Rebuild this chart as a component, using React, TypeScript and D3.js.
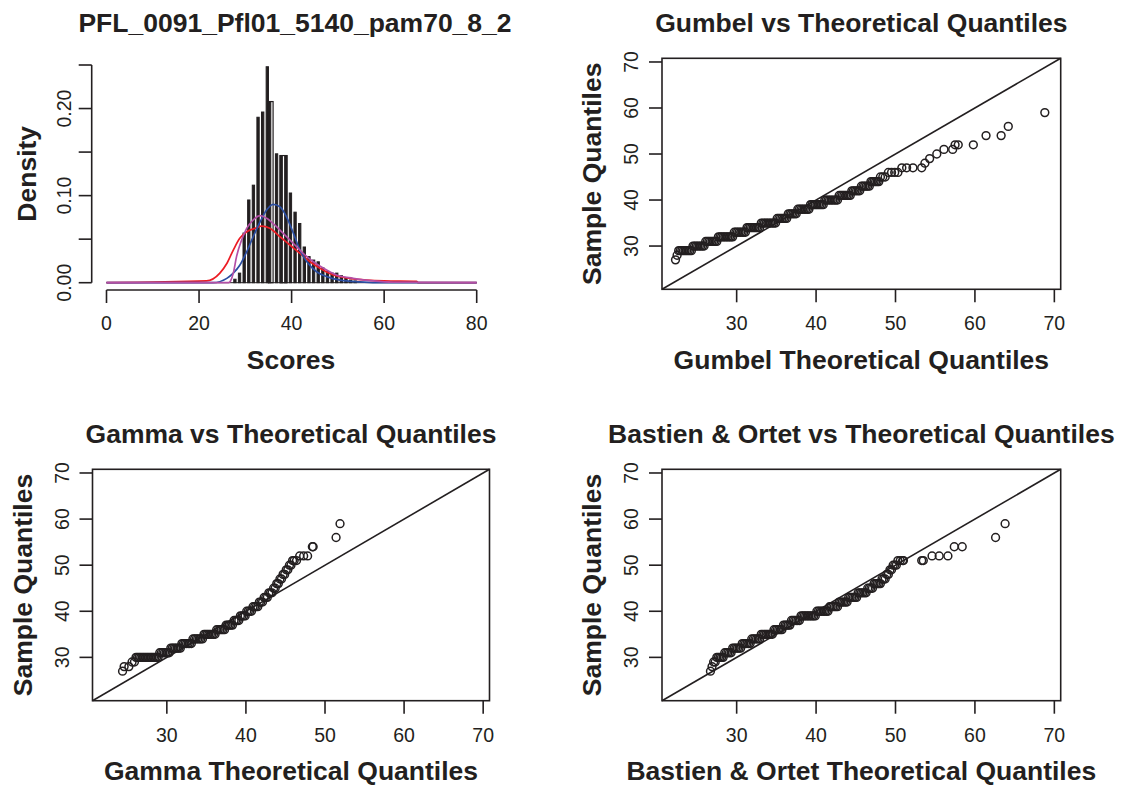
import React from 'react';
import * as d3 from 'd3';

// ---------------- DATA ----------------
// Histogram (density). Narrow filled bars: left edge and density
const histBarStart = [27.5, 28.5, 29.5, 30.5, 31.5, 32.5, 33.5, 34.5, 35.0, 36.5, 37.5, 38.5, 39.5, 40.5, 41.5, 42.5, 43.5, 44.5, 45.5, 46.5, 47.5, 48.5, 49.5, 50.5, 51.5, 52.5, 53.5];
const histDensity = [0.004, 0.011, 0.057, 0.095, 0.112, 0.19, 0.196, 0.248, 0.208, 0.148, 0.146, 0.146, 0.103, 0.081, 0.068, 0.041, 0.030, 0.026, 0.024, 0.017, 0.013, 0.011, 0.011, 0.008, 0.005, 0.003, 0.002];
const histBinWidth = 0.5;
// Wider open (outlined) bins seen in the histogram
const histBoxStart = [35.0, 37.5];
const histBoxEnd = [36.0, 39.0];
const histBoxDensity = [0.208, 0.146];

const histXTicks = [0, 20, 40, 60, 80];
const histYTicks = [0, 0.05, 0.1, 0.15, 0.2, 0.25];
const histYLabels = ['0.00', '', '0.10', '', '0.20', ''];

// Fitted density curves
const redX = [0, 21.6, 24.5, 26.0, 27.4, 28.8, 30.3, 32.1, 33.5, 35.3, 37.5, 39.7, 41.8, 44.0, 46.1, 49.0, 52.6, 56.2, 60.0, 67.0, 67.4, 80];
const redY = [0, 0.002, 0.011, 0.022, 0.0375, 0.051, 0.0585, 0.0624, 0.065, 0.0624, 0.0528, 0.043, 0.0337, 0.024, 0.0165, 0.0088, 0.005, 0.003, 0.002, 0.0015, 0, 0];
const blueX = [0, 23.0, 26.0, 27.4, 28.8, 30.3, 31.7, 33.2, 34.6, 36.0, 37.5, 38.9, 40.4, 41.8, 43.3, 45.4, 47.6, 50.5, 54.8, 60, 80];
const blueY = [0, 0, 0.005, 0.011, 0.020, 0.0356, 0.0528, 0.070, 0.0834, 0.090, 0.087, 0.0757, 0.0566, 0.0375, 0.024, 0.0126, 0.007, 0.003, 0.001, 0, 0];
const magentaX = [0, 26.4, 26.8, 27.4, 28.1, 29.2, 30.3, 31.7, 33.2, 34.6, 36.4, 38.2, 40.4, 42.5, 44.7, 46.9, 49.7, 53.3, 57.6, 62, 80];
const magentaY = [0, 0, 0.002, 0.011, 0.030, 0.049, 0.0624, 0.072, 0.077, 0.074, 0.066, 0.0566, 0.045, 0.0337, 0.024, 0.0165, 0.0088, 0.005, 0.002, 0.0005, 0];

// QQ plots: [theoretical quantile, sample quantile]
const gumbelPoints: [number, number][] = [
  [22.3, 27], [22.5, 28],
  [22.7, 29], [22.9, 29], [23.1, 29], [23.3, 29], [23.5, 29], [23.7, 29], [23.9, 29], [24.1, 29], [24.3, 29],
  [24.5, 30], [24.7, 30], [24.9, 30], [25.1, 30], [25.3, 30], [25.5, 30], [25.7, 30], [25.9, 30],
  [26.1, 31], [26.3, 31], [26.5, 31], [26.7, 31], [26.9, 31], [27.1, 31], [27.3, 31], [27.5, 31],
  [27.7, 32], [27.9, 32], [28.1, 32], [28.3, 32], [28.5, 32], [28.7, 32], [28.9, 32], [29.1, 32], [29.3, 32], [29.5, 32],
  [29.7, 33], [29.9, 33], [30.1, 33], [30.3, 33], [30.5, 33], [30.7, 33], [30.9, 33], [31.1, 33],
  [31.3, 34], [31.5, 34], [31.7, 34], [31.9, 34], [32.1, 34], [32.3, 34], [32.5, 34], [32.7, 34], [32.9, 34],
  [33.1, 35], [33.3, 35], [33.5, 35], [33.7, 35], [33.9, 35], [34.1, 35], [34.3, 35], [34.5, 35], [34.7, 35], [34.9, 35],
  [35.1, 36], [35.3, 36], [35.5, 36], [35.7, 36], [35.9, 36], [36.1, 36], [36.3, 36],
  [36.5, 37], [36.7, 37], [36.9, 37], [37.1, 37], [37.3, 37], [37.5, 37],
  [37.7, 38], [37.9, 38], [38.1, 38], [38.3, 38], [38.5, 38], [38.7, 38], [38.9, 38], [39.1, 38],
  [39.3, 39], [39.5, 39], [39.7, 39], [39.9, 39], [40.1, 39], [40.3, 39], [40.5, 39], [40.7, 39], [40.9, 39],
  [41.1, 40], [41.3, 40], [41.5, 40], [41.7, 40], [41.9, 40], [42.1, 40], [42.3, 40], [42.5, 40], [42.7, 40],
  [42.9, 41], [43.1, 41], [43.3, 41], [43.5, 41], [43.7, 41], [43.9, 41], [44.1, 41], [44.3, 41],
  [44.5, 42], [44.7, 42], [44.9, 42], [45.1, 42], [45.3, 42], [45.5, 42],
  [45.7, 43], [45.9, 43], [46.1, 43], [46.3, 43], [46.5, 43], [46.7, 43],
  [46.9, 44], [47.1, 44], [47.3, 44], [47.5, 44], [47.7, 44], [47.9, 44],
  [48.1, 45], [48.4, 45], [48.7, 45],
  [49.1, 46], [49.5, 46], [49.9, 46], [50.3, 46],
  [50.8, 47], [51.4, 47], [52.2, 47], [53.3, 47],
  [53.7, 48], [54.3, 49], [55.2, 50], [56.1, 51], [57.2, 51],
  [57.5, 52], [57.9, 52], [59.8, 52], [61.4, 54], [63.3, 54], [64.2, 56], [68.8, 59],
];

const gammaPoints: [number, number][] = [
  [24.4, 27], [24.6, 28], [25.2, 28], [25.6, 29], [25.9, 29],
  [26.1, 30], [26.3, 30], [26.5, 30], [26.7, 30], [26.9, 30], [27.1, 30], [27.3, 30], [27.5, 30], [27.7, 30], [27.9, 30], [28.1, 30], [28.3, 30], [28.5, 30], [28.7, 30], [28.9, 30],
  [29.1, 31], [29.3, 31], [29.5, 31], [29.7, 31], [29.9, 31], [30.1, 31], [30.3, 31],
  [30.5, 32], [30.7, 32], [30.9, 32], [31.1, 32], [31.3, 32], [31.5, 32], [31.7, 32],
  [31.9, 33], [32.1, 33], [32.3, 33], [32.5, 33], [32.7, 33], [32.9, 33], [33.1, 33],
  [33.3, 34], [33.5, 34], [33.7, 34], [33.9, 34], [34.1, 34], [34.3, 34], [34.5, 34],
  [34.7, 35], [34.9, 35], [35.1, 35], [35.3, 35], [35.5, 35], [35.7, 35], [35.9, 35], [36.1, 35],
  [36.3, 36], [36.5, 36], [36.7, 36], [36.9, 36], [37.1, 36], [37.3, 36],
  [37.5, 37], [37.7, 37], [37.9, 37], [38.1, 37], [38.3, 37],
  [38.5, 38], [38.7, 38], [38.9, 38], [39.1, 38],
  [39.3, 39], [39.5, 39], [39.7, 39], [39.9, 39],
  [40.1, 40], [40.3, 40], [40.5, 40], [40.7, 40],
  [40.9, 41], [41.1, 41], [41.3, 41], [41.5, 41],
  [41.7, 42], [41.9, 42], [42.1, 42],
  [42.3, 43], [42.5, 43], [42.7, 43],
  [42.9, 44], [43.1, 44], [43.3, 44],
  [43.5, 45], [43.7, 45], [43.9, 46], [44.1, 46], [44.3, 47], [44.5, 47],
  [44.7, 48], [44.9, 48], [45.1, 49], [45.3, 49], [45.5, 50], [45.7, 50],
  [45.9, 51], [46.1, 51], [46.4, 51], [46.8, 52], [47.3, 52], [47.8, 52],
  [48.4, 54], [48.5, 54], [51.4, 56], [51.9, 59],
];

const bastienPoints: [number, number][] = [
  [26.7, 27], [26.9, 28], [27.1, 29], [27.3, 29],
  [27.5, 30], [27.7, 30], [27.9, 30], [28.1, 30], [28.3, 30],
  [28.5, 31], [28.7, 31], [28.9, 31], [29.1, 31], [29.3, 31],
  [29.5, 32], [29.7, 32], [29.9, 32], [30.1, 32], [30.3, 32], [30.5, 32],
  [30.7, 33], [30.9, 33], [31.1, 33], [31.3, 33], [31.5, 33], [31.7, 33],
  [31.9, 34], [32.1, 34], [32.3, 34], [32.5, 34], [32.7, 34], [32.9, 34],
  [33.1, 35], [33.3, 35], [33.5, 35], [33.7, 35], [33.9, 35], [34.1, 35], [34.3, 35], [34.5, 35],
  [34.7, 36], [34.9, 36], [35.1, 36], [35.3, 36], [35.5, 36], [35.7, 36],
  [35.9, 37], [36.1, 37], [36.3, 37], [36.5, 37], [36.7, 37],
  [36.9, 38], [37.1, 38], [37.3, 38], [37.5, 38], [37.7, 38], [37.9, 38],
  [38.1, 39], [38.3, 39], [38.5, 39], [38.7, 39], [38.9, 39], [39.1, 39], [39.3, 39], [39.5, 39], [39.7, 39], [39.9, 39],
  [40.1, 40], [40.3, 40], [40.5, 40], [40.7, 40], [40.9, 40], [41.1, 40], [41.3, 40], [41.5, 40],
  [41.7, 41], [41.9, 41], [42.1, 41], [42.3, 41], [42.5, 41], [42.7, 41],
  [42.9, 42], [43.1, 42], [43.3, 42], [43.5, 42], [43.7, 42], [43.9, 42],
  [44.1, 43], [44.3, 43], [44.5, 43], [44.7, 43], [44.9, 43], [45.1, 43],
  [45.3, 44], [45.5, 44], [45.7, 44], [45.9, 44], [46.1, 44], [46.3, 44],
  [46.5, 45], [46.7, 45], [46.9, 45], [47.1, 45],
  [47.3, 46], [47.5, 46], [47.7, 46], [47.9, 46], [48.1, 46],
  [48.3, 47], [48.5, 47], [48.7, 47], [48.9, 48], [49.1, 48], [49.3, 49], [49.5, 49],
  [49.7, 50], [49.9, 50], [50.1, 50],
  [50.3, 51], [50.6, 51], [50.9, 51], [51.0, 51], [53.3, 51], [53.5, 51],
  [54.6, 52], [55.5, 52], [56.6, 52], [57.4, 54], [58.4, 54], [62.6, 56], [63.8, 59],
];

const qqTicks = [30, 40, 50, 60, 70];

// ---------------- STYLE / LAYOUT ----------------
const INK = '#231f20';
const RED = '#ec1c24';
const BLUE = '#2b4ea2';
const MAGENTA = '#b44fa6';
const FONT = '"Liberation Sans", Arial, Helvetica, sans-serif';
const TICK_FS = 19.5;
const LAB_FS = 26.5;
const TITLE_FS = 26.5;
const TICK_LEN = 13;
const LW = 1.6;
const PT_R = 3.9;
const PT_W = 1.5;

const LEFT = [92.5, 489.5];
const RIGHT = [662, 1060.7];
const TOP = [58.3, 289.3];
const BOTTOM = [469.3, 700.7];
const QQ_DOMAIN = [20.6, 70.8];

function Histogram() {
  const x = d3.scaleLinear().domain([0, 80]).range([106.5, 476.7]);
  const y = d3.scaleLinear().domain([0, 0.25]).range([282.7, 65]);
  const axisY = 290;
  const axisX = 91.7;
  const line = (xs: number[], ys: number[]) =>
    d3.line<number>().x((d, i) => x(xs[i])).y((d, i) => y(ys[i])).curve(d3.curveMonotoneX)(xs) || '';
  const cx = (LEFT[0] + LEFT[1]) / 2 + 4;
  const cy = (TOP[0] + TOP[1]) / 2;
  return (
    <g>
      {histBoxStart.map((b, i) => (
        <rect key={'b' + i} x={x(b)} y={y(histBoxDensity[i])} width={x(histBoxEnd[i]) - x(b)}
          height={y(0) - y(histBoxDensity[i])} fill="#fff" stroke={INK} strokeWidth={1.2} />
      ))}
      {histBarStart.map((b, i) => (
        <rect key={i} x={x(b)} y={y(histDensity[i])} width={x(b + histBinWidth) - x(b)}
          height={y(0) - y(histDensity[i])} fill={INK} stroke={INK} strokeWidth={1} />
      ))}
      <line x1={x(0)} x2={x(80)} y1={y(0)} y2={y(0)} stroke={INK} strokeWidth={1} />
      <path d={line(redX, redY)} fill="none" stroke={RED} strokeWidth={1.7} />
      <path d={line(blueX, blueY)} fill="none" stroke={BLUE} strokeWidth={1.7} />
      <path d={line(magentaX, magentaY)} fill="none" stroke={MAGENTA} strokeWidth={1.7} />
      {/* x axis */}
      <line x1={x(0)} x2={x(80)} y1={axisY} y2={axisY} stroke={INK} strokeWidth={LW} />
      {histXTicks.map(t => (
        <g key={t}>
          <line x1={x(t)} x2={x(t)} y1={axisY} y2={axisY + TICK_LEN} stroke={INK} strokeWidth={LW} />
          <text x={x(t)} y={TOP[1] + 41} textAnchor="middle" fontSize={TICK_FS}>{t}</text>
        </g>
      ))}
      {/* y axis */}
      <line x1={axisX} x2={axisX} y1={y(0)} y2={y(0.25)} stroke={INK} strokeWidth={LW} />
      {histYTicks.map((t, i) => (
        <g key={t}>
          <line x1={axisX - TICK_LEN} x2={axisX} y1={y(t)} y2={y(t)} stroke={INK} strokeWidth={LW} />
          {histYLabels[i] && (
            <text transform={`translate(${axisX - 21},${y(t)}) rotate(-90)`} textAnchor="middle" fontSize={TICK_FS}>{histYLabels[i]}</text>
          )}
        </g>
      ))}
      <text x={cx} y={TOP[0] - 26} textAnchor="middle" fontSize={TITLE_FS} fontWeight="bold">PFL_0091_Pfl01_5140_pam70_8_2</text>
      <text x={cx - 4} y={TOP[1] + 79.5} textAnchor="middle" fontSize={LAB_FS} fontWeight="bold">Scores</text>
      <text transform={`translate(${LEFT[0] - 57},${cy}) rotate(-90)`} textAnchor="middle" fontSize={LAB_FS} fontWeight="bold">Density</text>
    </g>
  );
}

function QQ({ xr, yr, points, title, xlab }: { xr: number[]; yr: number[]; points: [number, number][]; title: string; xlab: string }) {
  const x = d3.scaleLinear().domain(QQ_DOMAIN).range(xr);
  const y = d3.scaleLinear().domain(QQ_DOMAIN).range([yr[1], yr[0]]);
  const cx = (xr[0] + xr[1]) / 2;
  const cy = (yr[0] + yr[1]) / 2;
  return (
    <g>
      <rect x={xr[0]} y={yr[0]} width={xr[1] - xr[0]} height={yr[1] - yr[0]} fill="none" stroke={INK} strokeWidth={LW} />
      <line x1={x(QQ_DOMAIN[0])} y1={y(QQ_DOMAIN[0])} x2={x(QQ_DOMAIN[1])} y2={y(QQ_DOMAIN[1])} stroke={INK} strokeWidth={LW} />
      {points.map((p, i) => (
        <circle key={i} cx={x(p[0])} cy={y(p[1])} r={PT_R} fill="none" stroke={INK} strokeWidth={PT_W} />
      ))}
      {qqTicks.map(t => (
        <g key={'x' + t}>
          <line x1={x(t)} x2={x(t)} y1={yr[1]} y2={yr[1] + TICK_LEN} stroke={INK} strokeWidth={LW} />
          <text x={x(t)} y={yr[1] + 41} textAnchor="middle" fontSize={TICK_FS}>{t}</text>
        </g>
      ))}
      {qqTicks.map(t => (
        <g key={'y' + t}>
          <line x1={xr[0] - TICK_LEN} x2={xr[0]} y1={y(t)} y2={y(t)} stroke={INK} strokeWidth={LW} />
          <text transform={`translate(${xr[0] - 24},${y(t)}) rotate(-90)`} textAnchor="middle" fontSize={TICK_FS}>{t}</text>
        </g>
      ))}
      <text x={cx} y={yr[0] - 26} textAnchor="middle" fontSize={TITLE_FS} fontWeight="bold">{title}</text>
      <text x={cx} y={yr[1] + 79.5} textAnchor="middle" fontSize={LAB_FS} fontWeight="bold">{xlab}</text>
      <text transform={`translate(${xr[0] - 61},${cy}) rotate(-90)`} textAnchor="middle" fontSize={LAB_FS} fontWeight="bold">Sample Quantiles</text>
    </g>
  );
}

export default function App() {
  return (
    <svg width={1123} height={787} viewBox="0 0 1123 787"
      style={{ position: 'absolute', left: 0, top: 0, background: '#fff' }}
      fontFamily={FONT} fill={INK}>
      <rect x={0} y={0} width={1123} height={787} fill="#fff" />
      <Histogram />
      <QQ xr={RIGHT} yr={TOP} points={gumbelPoints}
        title="Gumbel vs Theoretical Quantiles" xlab="Gumbel Theoretical Quantiles" />
      <QQ xr={LEFT} yr={BOTTOM} points={gammaPoints}
        title="Gamma vs Theoretical Quantiles" xlab="Gamma Theoretical Quantiles" />
      <QQ xr={RIGHT} yr={BOTTOM} points={bastienPoints}
        title="Bastien & Ortet vs Theoretical Quantiles" xlab="Bastien & Ortet Theoretical Quantiles" />
    </svg>
  );
}
